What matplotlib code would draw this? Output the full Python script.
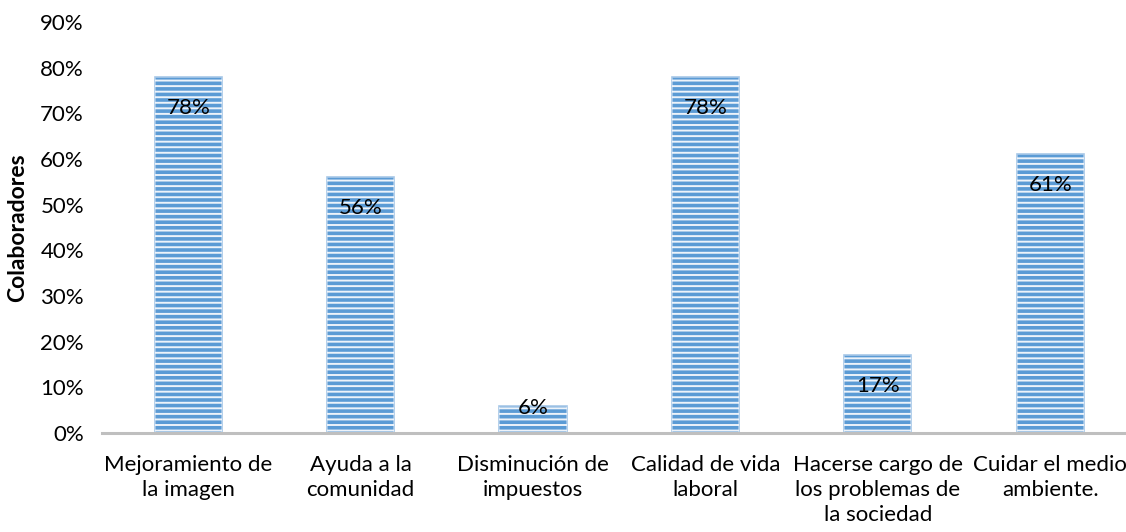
import matplotlib
matplotlib.use("Agg")
import matplotlib.pyplot as plt
from matplotlib.ticker import FuncFormatter

categories = ["Mejoramiento de\nla imagen", "Ayuda a la\ncomunidad", "Disminución de\nimpuestos",
              "Calidad de vida\nlaboral", "Hacerse cargo de\nlos problemas de\nla sociedad",
              "Cuidar el medio\nambiente."]
values = [78, 56, 6, 78, 17, 61]
yticks = [0, 10, 20, 30, 40, 50, 60, 70, 80, 90]

plt.rcParams['font.family'] = ['Lato', 'DejaVu Sans']
plt.rcParams['hatch.color'] = '#EDF3FA'
plt.rcParams['hatch.linewidth'] = 1.4

W, H = 1126, 532
fig = plt.figure(figsize=(W/100, H/100), dpi=100)
ax = fig.add_axes([102/W, 1 - 433/H, (1126-102)/W, (433-22)/H])

x = list(range(len(values)))
ax.bar(x, values, width=0.39, color='#5B9BD5', edgecolor='#A8C8E8', linewidth=1.2, zorder=2)
ax.bar(x, values, width=0.39, facecolor='none', edgecolor='#EDF3FA', linewidth=0,
       hatch='---', zorder=2.5)

ax.set_xlim(-0.5, 5.44)
ax.set_ylim(0, 90)
ax.set_yticks(yticks)
ax.yaxis.set_major_formatter(FuncFormatter(lambda v, p: f"{int(v)}%"))
ax.set_xticks(x)
ax.set_xticklabels(categories, fontsize=16, linespacing=1.3)
ax.tick_params(axis='y', length=0, labelsize=16, pad=13)
ax.tick_params(axis='x', length=0, pad=16)
for s in ['top', 'right', 'left']:
    ax.spines[s].set_visible(False)
ax.spines['bottom'].set_color('#BFBFBF')
ax.spines['bottom'].set_linewidth(2.2)
ax.spines['bottom'].set_zorder(3)

px_per_unit = (433 - 22) / 90
for xi, v in zip(x, values):
    hpx = v * px_per_unit
    off = 31 if hpx > 40 else 2
    ax.annotate(f"{v}%", (xi, v), xytext=(0, -off*0.72), textcoords='offset points',
                ha='center', va='center', fontsize=16, color='black', zorder=4)

ax.set_ylabel("Colaboradores", fontsize=16.5, fontweight='bold')
ax.yaxis.set_label_coords(-74/(1126-102), 0.5)

fig.savefig("out.png", dpi=100)
